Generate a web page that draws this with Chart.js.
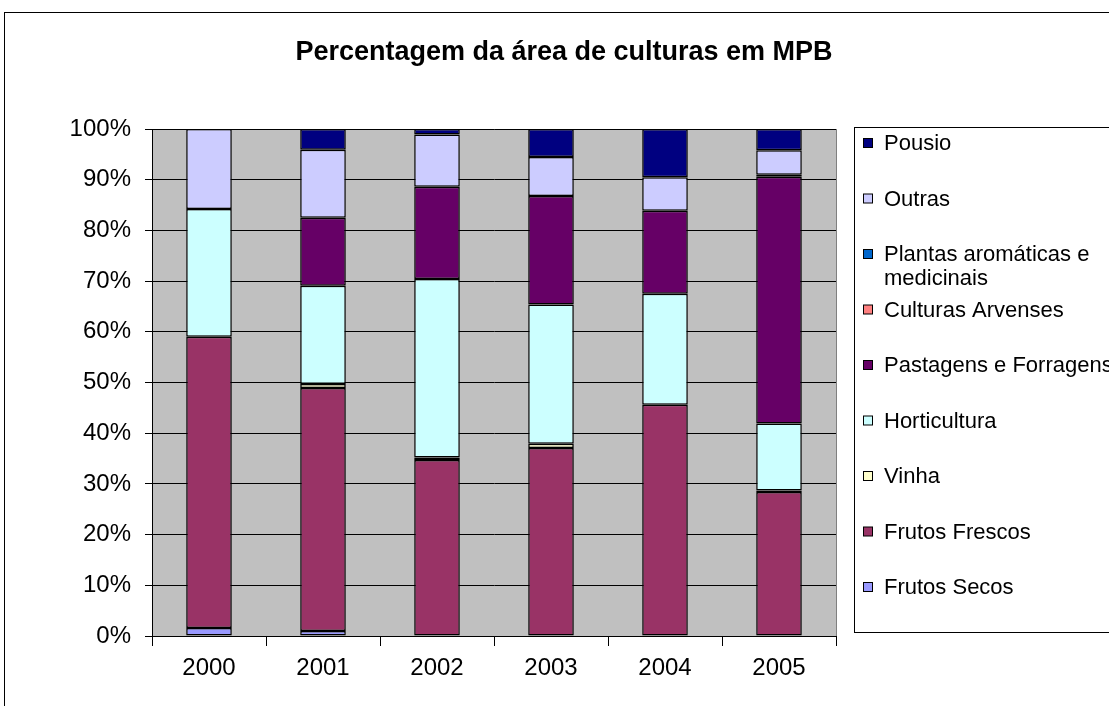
<!DOCTYPE html>
<html><head><meta charset="utf-8">
<script src="https://cdn.jsdelivr.net/npm/chart.js@4"></script>
<style>html,body{margin:0;padding:0;background:#fff}#c{display:block}</style>
</head><body>
<canvas id="c" width="1109" height="706"></canvas>
<script>
const chartTitle = 'Percentagem da área de culturas em MPB';
const years = ['2000', '2001', '2002', '2003', '2004', '2005'];
const frutosSecos      = [1.6, 1.0, 0, 0, 0, 0];
const frutosFrescos    = [57.4, 47.9, 34.7, 37.1, 45.6, 28.4];
const vinha            = [0, 0.8, 0.5, 0.8, 0, 0.3];
const horticultura     = [25.2, 19.4, 35.2, 27.5, 21.9, 13.2];
const pastagens        = [0, 13.4, 18.2, 21.4, 16.4, 48.7];
const culturasArvenses = [0, 0, 0, 0, 0, 0];
const plantasAromaticas= [0, 0, 0, 0, 0, 0.4];
const outras           = [15.8, 13.4, 10.3, 7.7, 6.6, 4.8];
const pousio           = [0, 4.1, 1.1, 5.5, 9.5, 4.2];
const seriesNames = ['Frutos Secos', 'Frutos Frescos', 'Vinha', 'Horticultura', 'Pastagens e Forragens',
  'Culturas Arvenses', 'Plantas aromáticas e medicinais', 'Outras', 'Pousio'];
const seriesValues = [frutosSecos, frutosFrescos, vinha, horticultura, pastagens,
  culturasArvenses, plantasAromaticas, outras, pousio];
const seriesColors = ['#9999FF', '#993366', '#FFFFCC', '#CCFFFF', '#660066',
  '#FF8080', '#0066CC', '#CCCCFF', '#000080'];

const FONT = '"Liberation Sans", Arial, sans-serif';

const frame = {
  id: 'frame',
  beforeDraw(chart) {
    const {ctx, chartArea: a} = chart;
    ctx.save();
    ctx.fillStyle = '#fff';
    ctx.fillRect(0, 0, chart.width, chart.height);
    ctx.strokeStyle = '#000';
    ctx.lineWidth = 1;
    ctx.strokeRect(4.5, 12.5, 1300, 900);
    ctx.fillStyle = '#C0C0C0';
    ctx.fillRect(a.left, a.top, a.right - a.left, a.bottom - a.top);
    ctx.strokeStyle = '#808080';
    ctx.strokeRect(a.left + 0.5, a.top + 0.5, a.right - a.left, a.bottom - a.top);
    ctx.fillStyle = '#000';
    ctx.font = 'bold 27px ' + FONT;
    ctx.textAlign = 'center';
    ctx.textBaseline = 'alphabetic';
    ctx.fillText(chartTitle, 564, 60);
    ctx.restore();
  },
  afterDraw(chart) {
    const {ctx} = chart;
    ctx.save();
    ctx.strokeStyle = '#000';
    ctx.lineWidth = 1;
    ctx.strokeRect(854.5, 127.5, 400, 505);
    ctx.font = '22px ' + FONT;
    ctx.textAlign = 'left';
    ctx.textBaseline = 'middle';
    const ds = chart.data.datasets.slice().reverse();
    ds.forEach((d, i) => {
      const y = 143 + i * 55.5;
      ctx.fillStyle = d.backgroundColor;
      ctx.fillRect(863.5, y - 4.5, 9, 9);
      ctx.strokeStyle = '#000';
      ctx.strokeRect(863.5, y - 4.5, 9, 9);
      ctx.fillStyle = '#000';
      const words = d.label.split(' ');
      let line = '', lines = [];
      words.forEach(w => {
        const t = line ? line + ' ' + w : w;
        if (ctx.measureText(t).width > 240 && line) { lines.push(line); line = w; }
        else line = t;
      });
      lines.push(line);
      lines.forEach((l, k) => ctx.fillText(l, 884, y + 1 + k * 24));
    });
    ctx.restore();
  }
};

new Chart(document.getElementById('c'), {
  type: 'bar',
  data: {
    labels: years,
    datasets: seriesNames.map((n, i) => ({
      label: n,
      data: seriesValues[i],
      backgroundColor: seriesColors[i],
      borderColor: '#000',
      borderWidth: 1.5,
      borderSkipped: false,
      barPercentage: 0.4,
      categoryPercentage: 1.0
    }))
  },
  options: {
    responsive: false,
    animation: false,
    devicePixelRatio: 1,
    layout: {padding: {left: 0, top: 129, right: 273, bottom: 0}},
    plugins: {legend: {display: false}, title: {display: false}, tooltip: {enabled: false}},
    scales: {
      x: {
        stacked: true,
        afterFit(s) { s.height = 70; },
        grid: {display: true, drawOnChartArea: false, drawTicks: true, tickLength: 10, color: '#000', offset: true},
        border: {display: true, color: '#000'},
        ticks: {color: '#000', font: {family: FONT, size: 24}, padding: 8, maxRotation: 0}
      },
      y: {
        stacked: true,
        min: 0, max: 100,
        afterFit(s) { s.width = 152; },
        grid: {color: '#000', tickLength: 7},
        border: {display: true, color: '#000'},
        ticks: {color: '#000', stepSize: 10, font: {family: FONT, size: 24}, padding: 14,
          callback: v => v + '%'}
      }
    }
  },
  plugins: [frame]
});
</script>
</body></html>
